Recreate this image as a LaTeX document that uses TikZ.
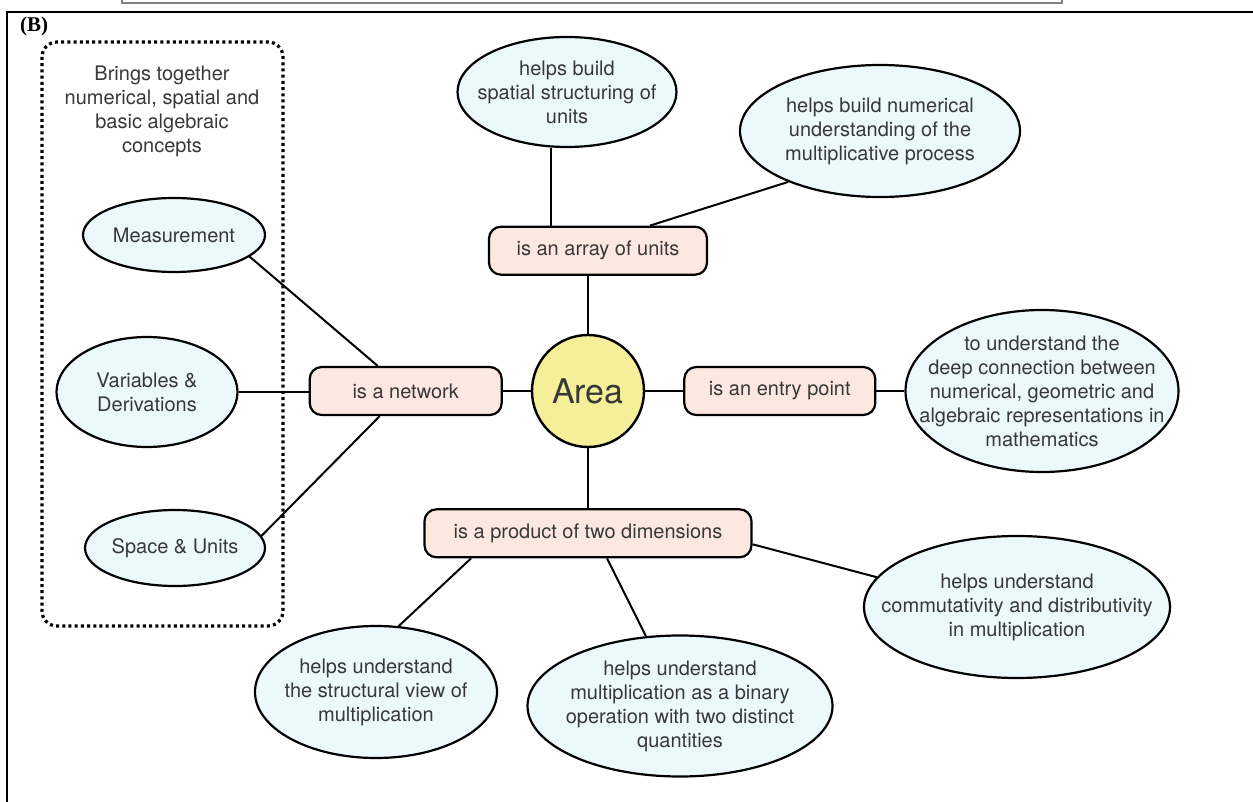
\documentclass[tikz,border=0pt]{standalone}
\usepackage{fontspec}
\setmainfont{TeX Gyre Heros}
\newfontfamily\panelfont{Liberation Serif}
\usepackage{tikz}
\usetikzlibrary{positioning, shapes.geometric, calc}
\usepackage{xcolor}

\definecolor{inkgray}{HTML}{383838}
\definecolor{pillfill}{HTML}{FCE8E0}
\definecolor{bubblefill}{HTML}{EBF8FC}
\definecolor{hubfill}{HTML}{F4EF98}

\begin{document}
\begin{tikzpicture}[
        x=0.5pt, y=-0.5pt,
        font=\fontsize{10}{12}\selectfont,
        hub/.style    = {draw, circle, line width=1.2pt, fill=hubfill, minimum size=56pt, inner sep=0pt, text=inkgray, font=\fontsize{17}{20}\selectfont},
        link/.style   = {draw, rectangle, rounded corners=6pt, line width=1.1pt, fill=pillfill, minimum height=24pt, text=inkgray},
        bubble/.style = {draw, ellipse, line width=1.1pt, fill=bubblefill, inner sep=-30pt, align=center, text=inkgray},
        conn/.style   = {line width=1pt},
    ]
        % frame
        \useasboundingbox (0,0) rectangle (1253,802);
        \draw[gray, line width=0.8pt] (122,0) -- (122,3) -- (1062,3) -- (1062,0);
        \draw[line width=1pt] (1253,12) -- (7,12) -- (7,802);
        \node[font=\panelfont\bfseries\fontsize{10.5}{12}\selectfont, anchor=west] (panel) at (13,26) {(B)};

        % dotted group on the left
        \draw[line width=1.6pt, dash pattern=on 1.5pt off 1.6pt, rounded corners=7.5pt] (42,42) rectangle (283,626);
        \node[align=center, text=inkgray] (brings) at (162,111) {Brings together\\numerical, spatial and\\basic algebraic\\concepts};

        \node[hub] (area) at (588,391) {Area};

        \node[link, minimum width=96pt, left=14pt of area] (net) {is a network};
        \node[link, minimum width=95.5pt, right=19pt of area] (entry) {is an entry point};
        \node[link, minimum width=109pt, above=29pt of area, xshift=5pt] (arr) {is an array of units};
        \node[link, minimum width=163.5pt, below=30pt of area] (prod) {is a product of two dimensions};

        \node[bubble, minimum width=91pt, minimum height=37pt] (meas) at (174,235) {Measurement};
        \node[bubble, minimum width=90.5pt, minimum height=55pt] (vars) at (147,392) {Variables \&\\Derivations};
        \node[bubble, minimum width=90pt, minimum height=38pt] (space) at (175,548) {Space \& Units};

        \node[bubble, minimum width=136.5pt, minimum height=81pt] (deep) at (1042,391) {to understand the\\deep connection between\\numerical, geometric and\\algebraic representations in\\mathematics};

        \node[bubble, minimum width=109.5pt, minimum height=55pt] (spat) at (567,92) {helps build\\spatial structuring of\\units};
        \node[bubble, minimum width=140pt, minimum height=66pt] (numer) at (880,131) {helps build numerical\\understanding of the\\multiplicative process};

        \node[bubble, minimum width=121pt, minimum height=66pt] (struc) at (376,692) {helps understand\\the structural view of\\multiplication};
        \node[bubble, minimum width=152.5pt, minimum height=70.5pt] (bin) at (680,706) {helps understand\\multiplication as a binary\\operation with two distinct\\quantities};
        \node[bubble, minimum width=153pt, minimum height=71pt] (comm) at (1017,607) {helps understand\\commutativity and distributivity\\in multiplication};

        \draw[conn] (net.east) -- (area.west);
        \draw[conn] (area.east) -- (entry.west);
        \draw[conn] (entry.east) -- (entry.east -| deep.west);
        \draw[conn] (area.north) -- (area.north |- arr.south);
        \draw[conn] (area.south) -- (area.south |- prod.north);

        \draw[conn] (meas.-16) -- ([xshift=-14pt]net.north);
        \draw[conn] (vars.east) -- (vars.east -| net.west);
        \draw[conn] (space.8) -- ([xshift=-13pt]net.south);

        \draw[conn] (spat.254) -- (spat.254 |- arr.north);
        \draw[conn] (numer.209) -- ([xshift=26pt]arr.north);

        \draw[conn] ([xshift=-58.5pt]prod.south) -- (struc.71);
        \draw[conn] ([xshift=9.5pt]prod.south) -- (bin.116);
        \draw[conn] ([yshift=-5.5pt]prod.east) -- (comm.168);
    \end{tikzpicture}
\end{document}
